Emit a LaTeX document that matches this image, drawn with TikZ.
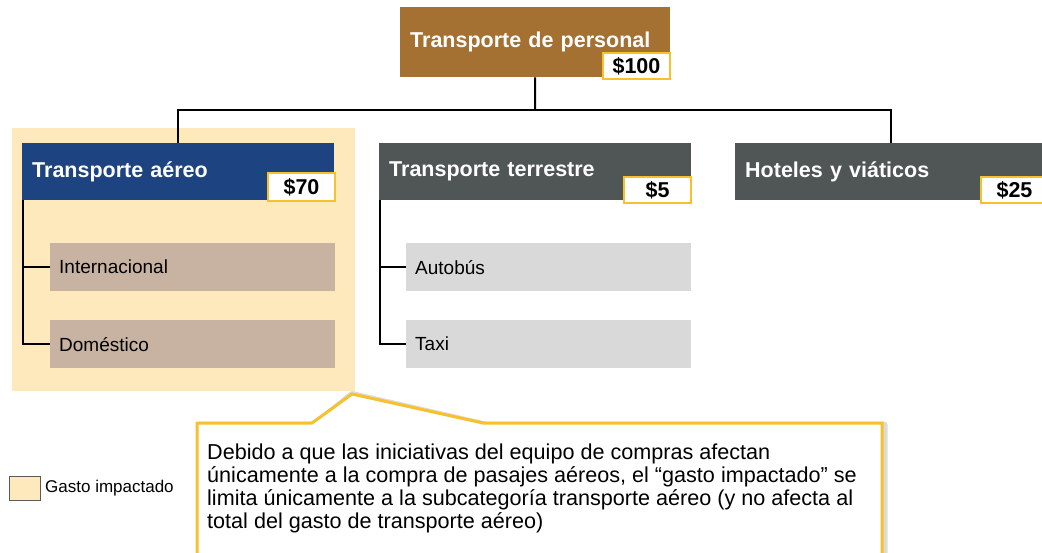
\documentclass[tikz,border=0pt]{standalone}
\usepackage{fontspec}
\setmainfont{Liberation Sans}
\usepackage{tikz}

\begin{document}
\begin{tikzpicture}[x=1pt,y=1pt,yscale=-1,
  catbox/.style={rectangle,anchor=north west,text=white,align=left,inner xsep=10pt,
    minimum height=57pt,text width=292pt,font=\fontsize{21.5}{24}\selectfont\bfseries},
  valbox/.style={rectangle,fill=white,draw={rgb,255:red,247;green,192;blue,44},line width=2.5pt,
    minimum width=67pt,minimum height=26pt,inner sep=0pt,font=\fontsize{21.5}{24}\selectfont\bfseries},
  subbox/.style={rectangle,anchor=north west,align=left,inner xsep=9pt,
    minimum height=48pt,text width=267pt,font=\fontsize{19}{22}\selectfont},
  link/.style={draw=black,line width=2pt}]
\useasboundingbox (0,0) rectangle (1042,552);
\clip (0,0) rectangle (1042,552);

%Shape: Rectangle [id:gasto] 
\fill [color={rgb, 255:red, 253; green, 233; blue, 187 }] (12,128) rectangle (355,391);

%Top box [id:personal] 
\node [catbox,fill={rgb, 255:red, 165; green, 113; blue, 51 },minimum height=70pt,text width=250pt] (personal) at (400,7) {Transporte de personal};

%Category boxes [id:categorias] 
\node [catbox,fill={rgb, 255:red, 29; green, 67; blue, 128 }] (aereo) at (22,143) {Transporte aéreo};
\node [catbox,fill={rgb, 255:red, 79; green, 86; blue, 85 }] (terrestre) at (379,143) {Transporte terrestre};
\node [catbox,fill={rgb, 255:red, 79; green, 86; blue, 85 }] (hoteles) at (735,143) {Hoteles y viáticos};

%Sub boxes [id:subcategorias] 
\node [subbox,fill={rgb, 255:red, 200; green, 179; blue, 162 }] (internacional) at (50,243) {Internacional};
\node [subbox,fill={rgb, 255:red, 200; green, 179; blue, 162 }] (domestico) at (50,320) {Doméstico};
\node [subbox,fill={rgb, 255:red, 217; green, 217; blue, 217 }] (autobus) at (406,243) {Autobús};
\node [subbox,fill={rgb, 255:red, 217; green, 217; blue, 217 }] (taxi) at (406,320) {Taxi};

%Straight Lines [id:arbol] 
\coordinate (split) at (535,110);
\draw [link] (personal.south) -- (split);
\draw [link] (split) -| (aereo.north);
\draw [link] (split) -| (hoteles.north);
\draw [link] ([xshift=1pt]aereo.south west) |- (internacional.west);
\draw [link] ([xshift=1pt]aereo.south west) |- (domestico.west);
\draw [link] ([xshift=1pt]terrestre.south west) |- (autobus.west);
\draw [link] ([xshift=1pt]terrestre.south west) |- (taxi.west);

%Value boxes [id:valores] 
\node [valbox] (v100) at (636.5,66) {\$100};
\node [valbox,minimum height=28pt] (v70) at (301.5,187) {\$70};
\node [valbox] (v5) at (657.5,190) {\$5};
\node [valbox] (v25) at (1014.5,190) {\$25};

%Shape: Callout [id:nota] 
\coordinate (tip) at (352,394);
\draw [line width=6pt,color=black!40,opacity=0.35,line join=round,shift={(2.5,1.5)}] (197,600) -- (197,423) -- (312,423) -- (tip) -- (483,423) -- (882,423) -- (882,600);
\draw [fill=white,draw={rgb, 255:red, 247; green, 192; blue, 44 },line width=3pt] (197,600) -- (197,423) -- (312,423) -- (tip) -- (483,423) -- (882,423) -- (882,600) -- cycle;
\node [anchor=north west,inner sep=0pt,align=left,font=\fontsize{21.6}{23}\selectfont] (texto) at (207,444)
  {Debido a que las iniciativas del equipo de compras afectan\\
   únicamente a la compra de pasajes aéreos, el “gasto impactado” se\\
   limita únicamente a la subcategoría transporte aéreo (y no afecta al\\
   total del gasto de transporte aéreo)};

%Legend [id:leyenda] 
\node [rectangle,anchor=north west,fill={rgb, 255:red, 253; green, 233; blue, 187 },draw={rgb, 255:red, 90; green, 90; blue, 90 },line width=1pt,minimum width=31pt,minimum height=24pt,inner sep=0pt] (muestra) at (9,476) {};
\node [anchor=west,inner sep=0pt,font=\fontsize{17}{20}\selectfont] (leyenda) at (45,488) {Gasto impactado};
\end{tikzpicture}
\end{document}
